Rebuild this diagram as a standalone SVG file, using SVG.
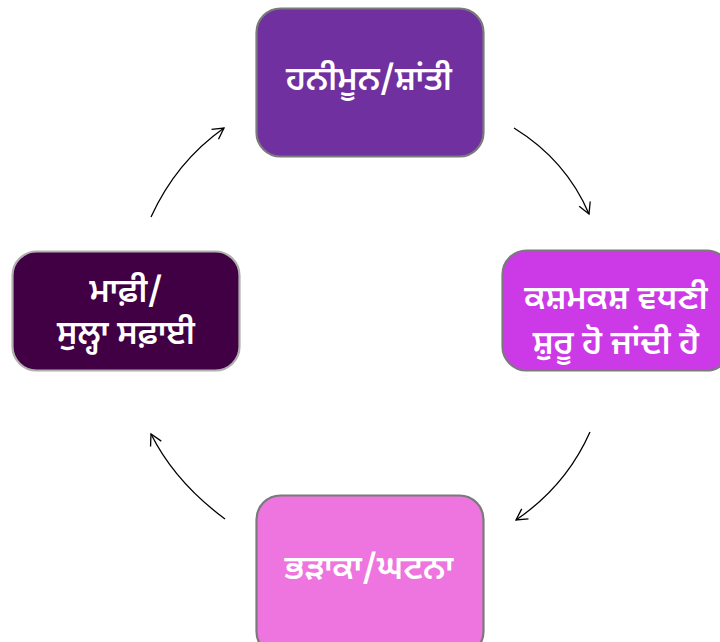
<svg xmlns="http://www.w3.org/2000/svg" width="720" height="642" viewBox="0 0 720 642">
<defs>
<style>
.lbl{font-family:"Noto Sans Gurmukhi","Noto Sans","DejaVu Sans",sans-serif;font-weight:600;font-size:33px;fill:#ffffff;text-anchor:middle}
.box{stroke-width:2.2}
.conn{fill:none;stroke:#000;stroke-width:1.3}
</style>
<marker id="ah" viewBox="0 0 14 14" refX="12" refY="7" markerWidth="14" markerHeight="14" markerUnits="userSpaceOnUse" orient="auto">
<path d="M1,1 L12,7 L1,13" fill="none" stroke="#000" stroke-width="1.3"/>
</marker>
</defs>
<rect width="720" height="642" fill="#ffffff"/>
<g id="n1">
<rect class="box" x="256.5" y="8.5" width="227" height="148" rx="24" fill="#7030A0" stroke="#7a7a7a"/>
<text class="lbl" x="369" y="90">ਹਨੀਮੂਨ/ਸ਼ਾਂਤੀ</text>
</g>
<g id="n2">
<rect class="box" x="502.5" y="250.5" width="228" height="120" rx="24" fill="#CB3AE6" stroke="#7a7a7a"/>
<text class="lbl" x="616" y="309">ਕਸ਼ਮਕਸ਼ ਵਧਣੀ</text>
<text class="lbl" x="616" y="354">ਸ਼ੁਰੂ ਹੋ ਜਾਂਦੀ ਹੈ</text>
</g>
<g id="n3">
<rect class="box" x="256.5" y="495.5" width="227" height="160" rx="24" fill="#EE74DF" stroke="#7a7a7a"/>
<text class="lbl" x="369" y="579">ਭੜਾਕਾ/ਘਟਨਾ</text>
</g>
<g id="n4">
<rect class="box" x="12.5" y="251.5" width="227" height="119" rx="24" fill="#420044" stroke="#b0b0b0"/>
<text class="lbl" x="126" y="302">ਮਾਫ਼ੀ/</text>
<text class="lbl" x="126" y="344">ਸੁਲ੍ਹਾ ਸਫ਼ਾਈ</text>
</g>
<g id="connectors">
<path class="conn" d="M514,128 Q566,160 589,214" marker-end="url(#ah)"/>
<path class="conn" d="M590,432 Q566,486 516,520" marker-end="url(#ah)"/>
<path class="conn" d="M225,519 Q175,482 151,434" marker-end="url(#ah)"/>
<path class="conn" d="M151,217 Q176,162 224,128" marker-end="url(#ah)"/>
</g>
</svg>
